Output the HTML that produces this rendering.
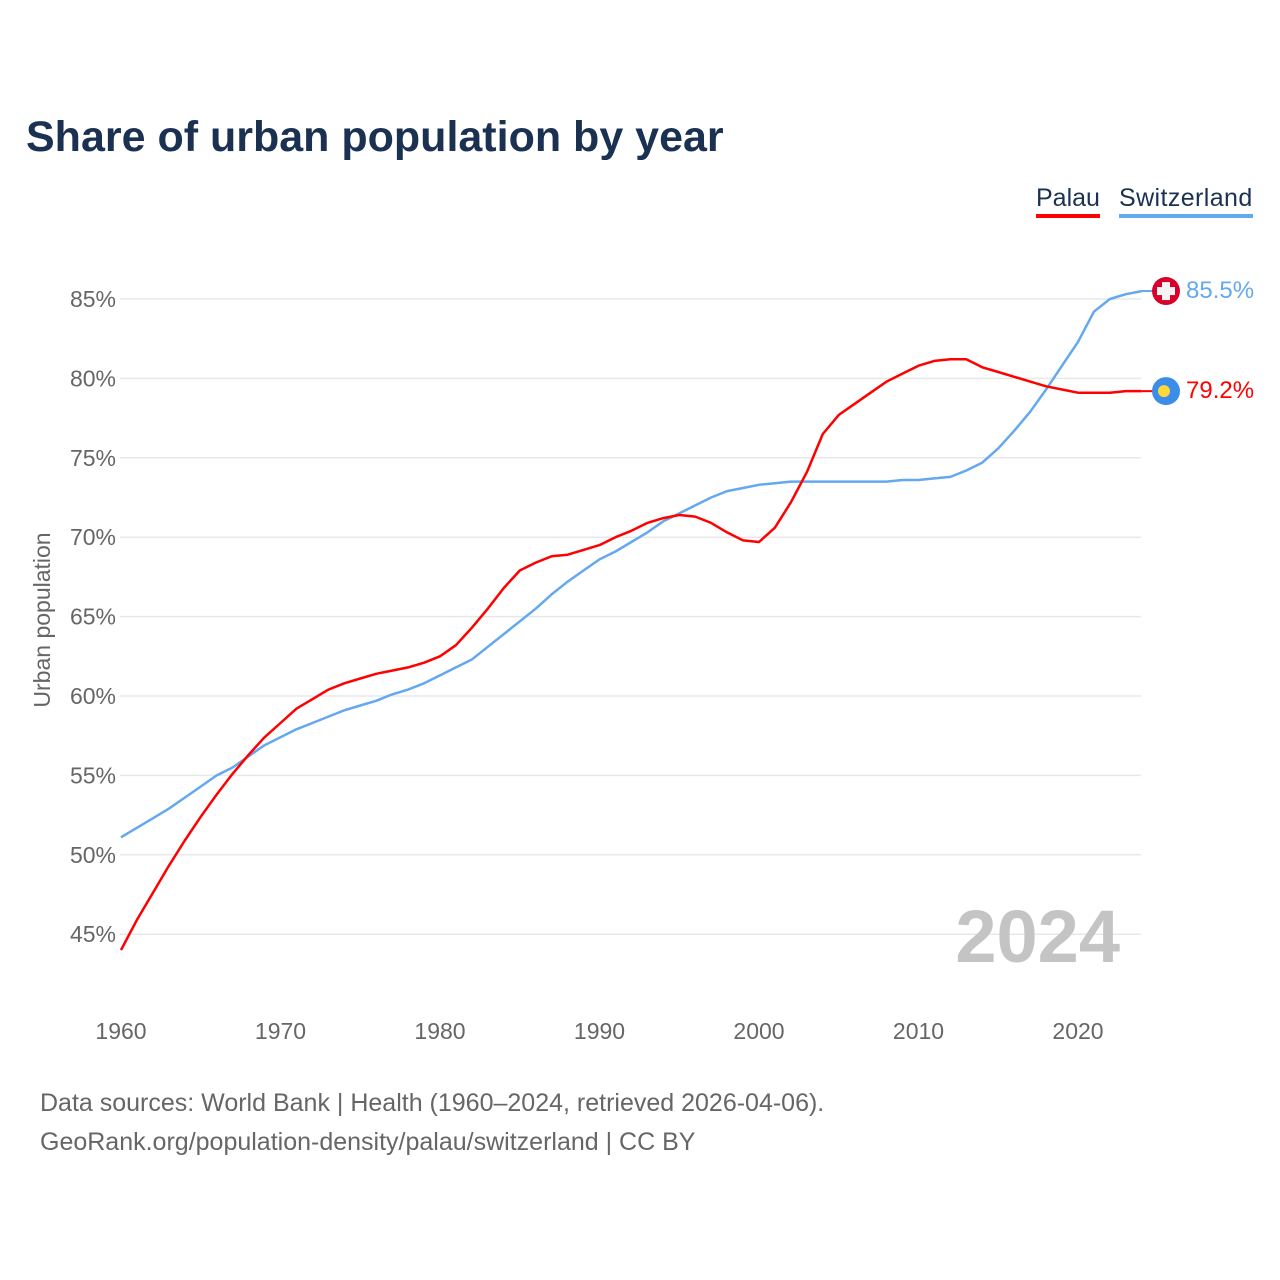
<!DOCTYPE html>
<html><head><meta charset="utf-8">
<style>
body{margin:0;background:#fff;font-family:"Liberation Sans",sans-serif;}
#wrap{position:relative;width:1280px;height:1280px;overflow:hidden;}
.t{position:absolute;white-space:nowrap;}
</style></head>
<body>
<div id="wrap">
<div class="t" style="left:26px;top:113px;font-size:43px;font-weight:bold;color:#1b3152;">Share of urban population by year</div>
<div class="t" style="left:1036px;top:184px;font-size:25px;color:#1b3152;border-bottom:4px solid #ff0000;padding-bottom:1px;">Palau</div>
<div class="t" style="left:1119px;top:184px;font-size:25px;letter-spacing:0.4px;color:#1b3152;border-bottom:4px solid #64a8ef;padding-bottom:1px;">Switzerland</div>
<svg id="chart" width="1280" height="1280" style="position:absolute;left:0;top:0"></svg>
<div class="t" style="left:40px;top:1084px;font-size:25px;color:#666;line-height:39px;">Data sources: World Bank | Health (1960–2024, retrieved 2026-04-06).<br>GeoRank.org/population-density/palau/switzerland | CC BY</div>
</div>
<script>
const years=[];for(let y=1960;y<=2024;y++)years.push(y);
const palau=[44.0,45.9,47.6,49.3,50.9,52.4,53.8,55.1,56.3,57.4,58.3,59.2,59.8,60.4,60.8,61.1,61.4,61.6,61.8,62.1,62.5,63.2,64.3,65.5,66.8,67.9,68.4,68.8,68.9,69.2,69.5,70.0,70.4,70.9,71.2,71.4,71.3,70.9,70.3,69.8,69.7,70.6,72.2,74.1,76.5,77.7,78.4,79.1,79.8,80.3,80.8,81.1,81.2,81.2,80.7,80.4,80.1,79.8,79.5,79.3,79.1,79.1,79.1,79.2,79.2];
const swiss=[51.1,51.7,52.3,52.9,53.6,54.3,55.0,55.5,56.2,56.9,57.4,57.9,58.3,58.7,59.1,59.4,59.7,60.1,60.4,60.8,61.3,61.8,62.3,63.1,63.9,64.7,65.5,66.4,67.2,67.9,68.6,69.1,69.7,70.3,71.0,71.5,72.0,72.5,72.9,73.1,73.3,73.4,73.5,73.5,73.5,73.5,73.5,73.5,73.5,73.6,73.6,73.7,73.8,74.2,74.7,75.6,76.7,77.9,79.3,80.8,82.3,84.2,85.0,85.3,85.5];
const yTicks=[45,50,55,60,65,70,75,80,85];
const xTicks=[1960,1970,1980,1990,2000,2010,2020];
const NS="http://www.w3.org/2000/svg";
const svg=document.getElementById('chart');
const xs=y=>121+(y-1960)*15.95;
const ys=v=>299+(85-v)*15.88;
function mk(t,a){const e=document.createElementNS(NS,t);for(const k in a)e.setAttribute(k,a[k]);svg.appendChild(e);return e;}
yTicks.forEach(v=>{
 const l=mk('line',{x1:120,x2:1141,y1:ys(v),y2:ys(v),stroke:'#e8e8e8','stroke-width':1.5});
 
 
 const t=mk('text',{x:116,y:ys(v)+8,'text-anchor':'end','font-size':23,fill:'#666','font-family':'Liberation Sans, sans-serif'});
 t.textContent=v+'%';
 
 
});
xTicks.forEach(y=>{
 const t=mk('text',{x:xs(y),y:1039,'text-anchor':'middle','font-size':23,fill:'#666','font-family':'Liberation Sans, sans-serif'});
 t.textContent=y;
 
 
});
const yt=mk('text',{x:0,y:0,transform:'translate(50,620) rotate(-90)','text-anchor':'middle','font-size':23,fill:'#666','font-family':'Liberation Sans, sans-serif'});
yt.textContent='Urban population';


const yr=mk('text',{x:1120,y:962,'text-anchor':'end','font-size':74,'font-weight':'bold',fill:'#c4c4c4','font-family':'Liberation Sans, sans-serif'});
yr.textContent='2024';


function line(data,color,name){
 const d=data.map((v,i)=>(i?'L':'M')+xs(years[i]).toFixed(1)+','+ys(v).toFixed(1)).join('');
 const p=mk('path',{d:d,fill:'none',stroke:color,'stroke-width':2.5,'stroke-linejoin':'round'});
 
 
 const last=data[data.length-1];
 mk('line',{x1:xs(2024),x2:1160,y1:ys(last),y2:ys(last),stroke:color,'stroke-width':2});
}
line(swiss,'#64a8ef','series-switzerland');
line(palau,'#ff0000','series-palau');
const sy=ys(85.5), py=ys(79.2);
const m1=mk('circle',{cx:1166,cy:sy,r:14,fill:'#d8002a'});


mk('rect',{x:1162,y:sy-9,width:8,height:18,fill:'#f4f4f4'});
mk('rect',{x:1157,y:sy-4,width:18,height:8,fill:'#f4f4f4'});
const m2=mk('circle',{cx:1166,cy:py,r:14,fill:'#3a8de8'});


mk('circle',{cx:1164,cy:py,r:6,fill:'#ffd83a'});
const l1=mk('text',{x:1186,y:sy+7,'font-size':24,fill:'#64a8ef','font-family':'Liberation Sans, sans-serif'});
l1.textContent=swiss[swiss.length-1]+'%';


const l2=mk('text',{x:1186,y:py+7,'font-size':24,fill:'#ff0000','font-family':'Liberation Sans, sans-serif'});
l2.textContent=palau[palau.length-1]+'%';


</script>
</body></html>
